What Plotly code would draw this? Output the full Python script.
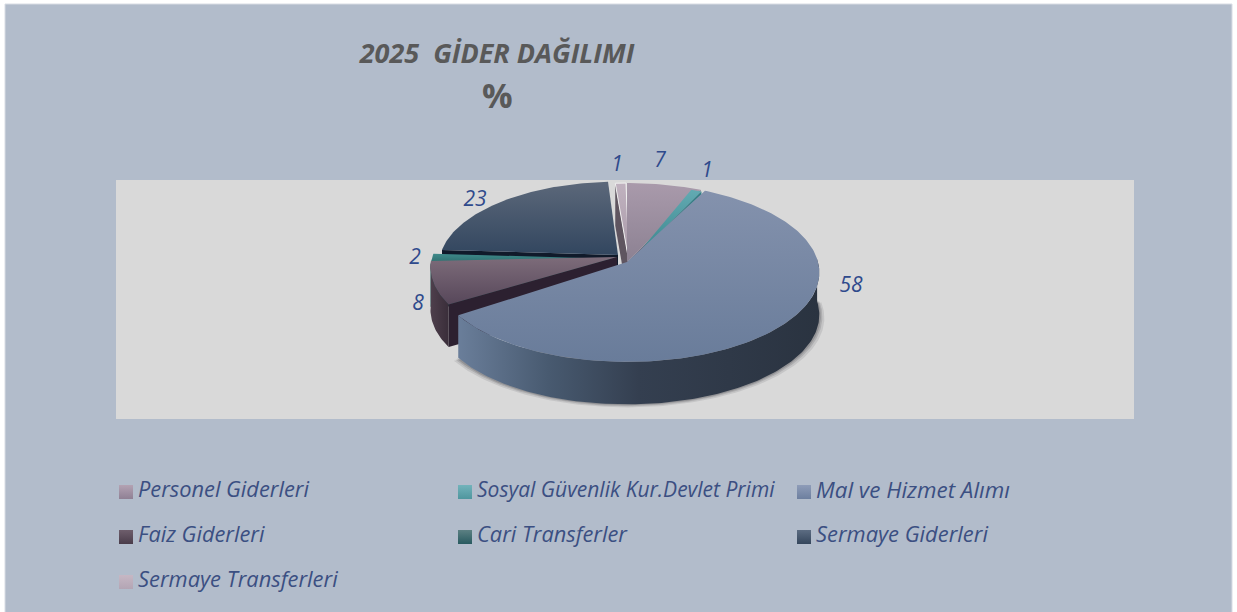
import math
import plotly.graph_objects as go

# ---- data ----
categories = ["Personel Giderleri", "Sosyal Güvenlik Kur.Devlet Primi", "Mal ve Hizmet Alımı",
              "Faiz Giderleri", "Cari Transferler", "Sermaye Giderleri", "Sermaye Transferleri"]
values = [7, 1, 58, 8, 2, 23, 1]
title_text = "2025\u00a0\u00a0GİDER DAĞILIMI"
subtitle_text = "%"

# ---- style ----
top_colors = [("#a99aab", "#8c8192"), ("#62aab2", "#358087"), ("#8492ad", "#697c9a"),
              ("#7d6c7a", "#57475a"), ("#3f8a8a", "#2a6868"), ("#5c687a", "#32465f"), ("#c0b2bf", "#a899a8")]
wall_colors = [("#6d6270", "#4a4050"), ("#2e7278", "#245c60"),
               ("#6a7e9a", "#2a3340"), ("#4e3f4c", "#3a2e3a"),
               ("#1f5050", "#163c3c"), ("#1e2a3c", "#141e2c"), ("#6d6270", "#4a4050")]
radial_wall = ["#6d6270", "#2f7f85", "#35404f", "#2c2030", "#123a3c", "#101a2a", "#5f5560"]
legend_top = ["#b3a2b3", "#72b3bb", "#8e9cb8", "#6e5e6c", "#5c8083", "#5c6c82", "#c6b7c4"]
legend_bottom = ["#8f8094", "#4f969e", "#6d7f9f", "#4a3c4a", "#285a60", "#35465c", "#b3a5b4"]
label_color = "#2f4a8c"
legend_color = "#3b4f82"
title_color = "#595959"

apex_x = [627, 629, 627, 617, 617, 618, 629]
apex_y = [262, 264, 262, 257, 259, 255, 262]
slice_scale = [1, 1, 1, 0.97, 0.97, 0.93, 1]
slice_rot = [0, -4, -2, 1, 0, 0, -1]
label_x = [660, 707, 851, 418, 415, 475, 617]
label_y = [162, 172, 287, 305, 259, 201, 166]
legend_x = [119, 458, 797, 119, 458, 797, 119]
legend_y = [492, 492, 492, 537, 537, 537, 582]
text_y = [491, 491, 491, 536, 536, 536, 581]
text_size = [21.8, 21, 22.4, 21.8, 21.8, 21.9, 21.9]
draw_order = [6, 0, 1, 5, 4, 3, 2]
RX, RY, K, DEPTH = 191.0, 88.2, 0.117, 42.5


def rim(theta_deg, ax, ay, scale, rot):
    t = math.radians(theta_deg + rot)
    u, v = math.sin(t), math.cos(t)
    w = 1 + K * v
    return ax + scale * RX * u / w, ay - scale * RY * v / w


def arc(a0, a1, ax, ay, scale, rot):
    n = max(3, int(abs(a1 - a0)) + 2)
    return [rim(a0 + (a1 - a0) * i / (n - 1), ax, ay, scale, rot) for i in range(n)]


fig = go.Figure()


def poly(pts, gradient=None, color=None, line=None):
    xs = [p[0] for p in pts] + [pts[0][0]]
    ys = [p[1] for p in pts] + [pts[0][1]]
    kw = dict(x=xs, y=ys, fill="toself", mode="lines", hoverinfo="skip", showlegend=False,
              line=dict(width=line[1], color=line[0]) if line else dict(width=0))
    if gradient:
        kw["fillgradient"] = gradient
        kw["fillcolor"] = None
    else:
        kw["fillcolor"] = color
    fig.add_trace(go.Scatter(**kw))


# soft shadow under the pie
total = sum(values)
cum = [sum(values[:i]) for i in range(len(values))]
bounds = [(c / total * 360, (c + v) / total * 360) for c, v in zip(cum, values)]
for grow, alpha in ((5, 0.10), (3, 0.14), (1.5, 0.18)):
    a0, a1 = bounds[2]
    pts = arc(a0 + 60, a1, apex_x[2], apex_y[2], slice_scale[2], slice_rot[2])
    pts = [(x + (x - apex_x[2]) * grow / RX, y + DEPTH + grow * 0.6) for x, y in pts]
    poly(pts, color=f"rgba(30,30,35,{alpha})")

for i in draw_order:
    a0, a1 = bounds[i]
    ax, ay, sc, rot = apex_x[i], apex_y[i], slice_scale[i], slice_rot[i]
    a = arc(a0, a1, ax, ay, sc, rot)
    # radial cut face turned toward the viewer
    if i != 2:
        ex, ey = a[0] if a0 > 180 else a[-1]
        poly([(ax, ay), (ex, ey), (ex, ey + DEPTH), (ax, ay + DEPTH)], color=radial_wall[i])
    # outer wall (only the part facing the viewer)
    f0, f1 = max(a0, 90), min(a1, 270)
    if f1 > f0:
        w = arc(f0, f1, ax, ay, sc, rot)
        wp = w + [(x, y + DEPTH) for x, y in reversed(w)]
        xmin, xmax = min(p[0] for p in wp), max(p[0] for p in wp)
        if i == 2:
            scale = [[0, "#6a7e9a"], [0.25, "#485a70"], [0.5, "#343f50"], [1, "#2a3340"]]
        else:
            scale = [[0, wall_colors[i][0]], [1, wall_colors[i][1]]]
        poly(wp, gradient=dict(type="horizontal", colorscale=scale, start=xmin, stop=xmax))
    # top face
    pts = [(ax, ay)] + a
    ys = [p[1] for p in pts]
    grad = dict(type="vertical", colorscale=[[0, top_colors[i][0]], [1, top_colors[i][1]]],
                start=min(ys), stop=max(ys))
    poly(pts, gradient=grad, line=("#f0f0f0", 1) if i == 6 else None)

# data labels
for i, v in enumerate(values):
    fig.add_trace(go.Scatter(x=[label_x[i]], y=[label_y[i]], mode="text", text=[str(v)],
                             textposition="middle center", showlegend=False, hoverinfo="skip",
                             textfont=dict(family="Open Sans", size=21, color=label_color, style="italic")))

# legend
for i, name in enumerate(categories):
    fig.add_trace(go.Scatter(x=[legend_x[i] + 7], y=[legend_y[i]], mode="markers", name=name,
                             showlegend=False, hoverinfo="skip",
                             marker=dict(symbol="square", size=14, color=legend_top[i], line=dict(width=0),
                                         gradient=dict(type="vertical", color=legend_bottom[i]))))
    fig.add_trace(go.Scatter(x=[legend_x[i] + 19], y=[text_y[i] + 1], mode="text", text=[name],
                             textposition="middle right", showlegend=False, hoverinfo="skip",
                             textfont=dict(family="Open Sans", size=text_size[i], color=legend_color, style="italic")))

fig.update_layout(
    width=1237, height=612, margin=dict(l=0, r=0, t=0, b=0, pad=0), paper_bgcolor="#ffffff",
    plot_bgcolor="rgba(0,0,0,0)",
    xaxis=dict(range=[0, 1237], visible=False, fixedrange=True),
    yaxis=dict(range=[612, 0], visible=False, fixedrange=True),
    title=dict(text=title_text, x=497 / 1237, y=1 - 54 / 612, xanchor="center", yanchor="middle",
               font=dict(family="Open Sans", size=27, color=title_color, weight="bold", style="italic")),
    annotations=[dict(text=subtitle_text, x=497, y=95, xref="x", yref="y", showarrow=False,
                      font=dict(family="Open Sans", size=34, color=title_color, weight="bold"))],
    shapes=[
        dict(type="rect", layer="below", x0=5, x1=1232, y0=4, y1=620, fillcolor="#b2bccb",
             line=dict(color="#d8dce4", width=1)),
        dict(type="rect", layer="below", x0=116, x1=1134, y0=180, y1=419, fillcolor="#d9d9d9",
             line=dict(width=0)),
    ],
)
fig.write_html("out.html", config={"displayModeBar": False},
               post_script="document.body.style.margin='0';document.documentElement.style.overflow='hidden';")
